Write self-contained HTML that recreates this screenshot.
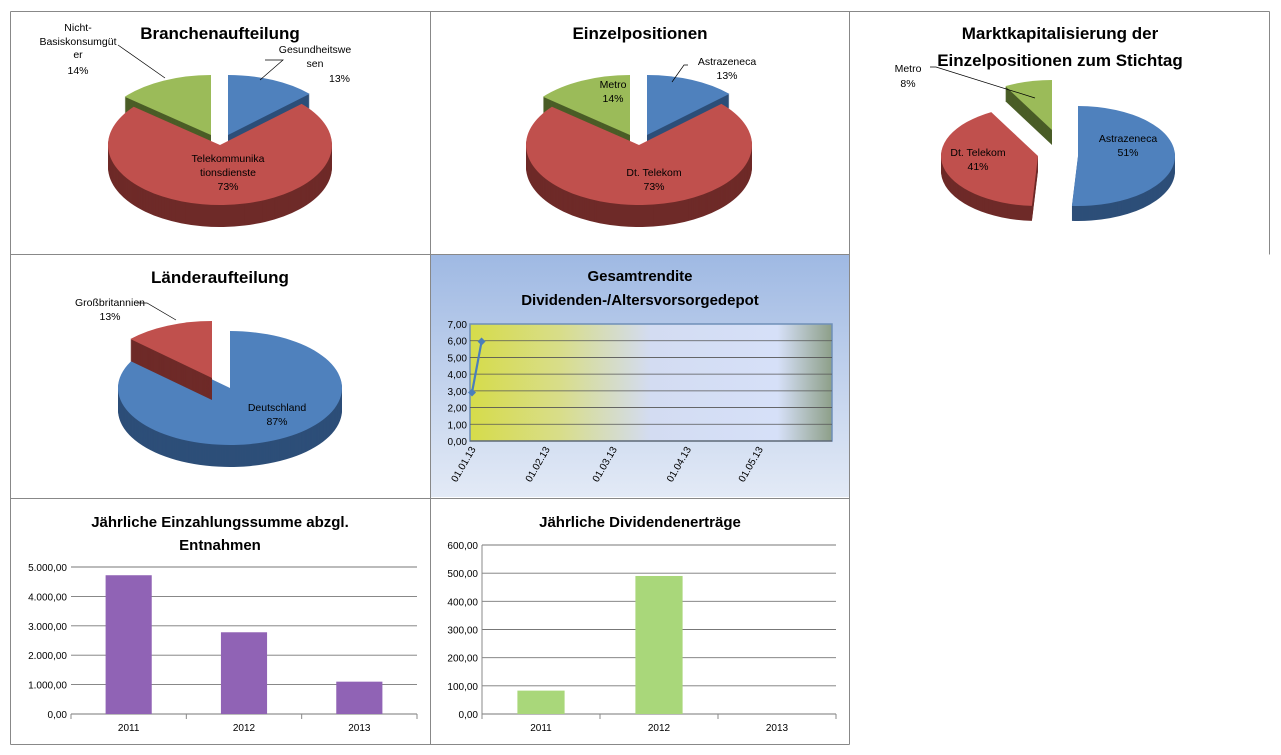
<!DOCTYPE html>
<html><head><meta charset="utf-8"><style>
body{margin:0;background:#fff;}
svg{display:block;font-family:"Liberation Sans",sans-serif;}
.t{font-weight:bold;font-size:17px;fill:#000;text-anchor:middle}
.l{font-size:10.5px;fill:#000;text-anchor:middle}
.ax{font-size:10px;fill:#000}
</style></head><body>
<svg id="s" width="1281" height="755" viewBox="0 0 1281 755" xmlns="http://www.w3.org/2000/svg">
<defs>
<linearGradient id="bg5" x1="0" y1="0" x2="0" y2="1"><stop offset="0" stop-color="#9fb9e3"/><stop offset="1" stop-color="#e3eaf6"/></linearGradient>
<linearGradient id="pa5" x1="0" y1="0" x2="1" y2="0"><stop offset="0" stop-color="#d6dc4a"/><stop offset="0.25" stop-color="#d8dd8a"/><stop offset="0.5" stop-color="#d3dcf2"/><stop offset="0.85" stop-color="#d6e0f8"/><stop offset="1" stop-color="#8d9f88"/></linearGradient>
</defs>
<rect x="431" y="255" width="418" height="242" fill="url(#bg5)"/>
<g stroke="#888" stroke-width="1" fill="none">
<path d="M10.5 11.5H1269.5M10.5 254.5H849.5M10.5 498.5H849.5M10.5 744.5H849.5M10.5 11.5V744.5M430.5 11.5V744.5M849.5 11.5V744.5M1269.5 11.5V254.5"/>
</g>
<text class="t" x="220" y="39">Branchenaufteilung</text>
<text class="t" x="640" y="39">Einzelpositionen</text>
<text class="t" x="1060" y="39">Marktkapitalisierung der</text>
<text class="t" x="1060" y="66">Einzelpositionen zum Stichtag</text>
<text class="t" x="220" y="283">Länderaufteilung</text>
<text class="t" x="640" y="281" style="font-size:15px">Gesamtrendite</text>
<text class="t" x="640" y="305" style="font-size:15px">Dividenden-/Altersvorsorgedepot</text>
<text class="t" x="220" y="527" style="font-size:15px">Jährliche Einzahlungssumme abzgl.</text>
<text class="t" x="220" y="550" style="font-size:15px">Entnahmen</text>
<text class="t" x="640" y="527" style="font-size:15px">Jährliche Dividendenerträge</text>
<g id="pies"></g>
<g id="line"></g>
<g id="bars"></g>
<g stroke="#000" stroke-width="0.7" fill="none">
<path d="M118 45L165 78M265 60H283L260 80M688 65H684L672 82M930 67H936L1035 98M136 303H147L176 320"/>
</g>
<g>
<text class="l" x="78" y="31">Nicht-</text><text class="l" x="78" y="45">Basiskonsumgüt</text><text class="l" x="78" y="58">er</text><text class="l" x="78" y="74">14%</text>
<text class="l" x="315" y="53">Gesundheitswe</text><text class="l" x="315" y="67">sen</text><text class="l" x="350" y="82" style="text-anchor:end">13%</text>
<text class="l" x="228" y="162">Telekommunika</text><text class="l" x="228" y="176">tionsdienste</text><text class="l" x="228" y="190">73%</text>
<text class="l" x="613" y="88">Metro</text><text class="l" x="613" y="102">14%</text>
<text class="l" x="727" y="65">Astrazeneca</text><text class="l" x="727" y="79">13%</text>
<text class="l" x="654" y="176">Dt. Telekom</text><text class="l" x="654" y="190">73%</text>
<text class="l" x="908" y="72">Metro</text><text class="l" x="908" y="87">8%</text>
<text class="l" x="1128" y="142">Astrazeneca</text><text class="l" x="1128" y="156">51%</text>
<text class="l" x="978" y="156">Dt. Telekom</text><text class="l" x="978" y="170">41%</text>
<text class="l" x="110" y="306">Großbritannien</text><text class="l" x="110" y="320">13%</text>
<text class="l" x="277" y="411">Deutschland</text><text class="l" x="277" y="425">87%</text>
</g>
</svg>
<script>
// ---- Pie data ----
const pie1Labels=["Gesundheitswesen","Telekommunikationsdienste","Nicht-Basiskonsumgüter"];
const pie1Values=[13,73,14];
const pie2Labels=["Astrazeneca","Dt. Telekom","Metro"];
const pie2Values=[13,73,14];
const pie3Labels=["Astrazeneca","Dt. Telekom","Metro"];
const pie3Values=[51,41,8];
const pie4Labels=["Deutschland","Großbritannien"];
const pie4Values=[87,13];
// ---- Line data ----
const lineDays=[0,4];
const lineValues=[2.9,5.95];
const lineYTicks=["0,00","1,00","2,00","3,00","4,00","5,00","6,00","7,00"];
const lineXTickDays=[0,31,59,90,120];
const lineXTicks=["01.01.13","01.02.13","01.03.13","01.04.13","01.05.13"];
// ---- Bar data ----
const barCats=["2011","2012","2013"];
const bar1Values=[4720,2780,1100];
const bar1Ticks=["0,00","1.000,00","2.000,00","3.000,00","4.000,00","5.000,00"];
const bar2Values=[83,490,0];
const bar2Ticks=["0,00","100,00","200,00","300,00","400,00","500,00","600,00"];

const NS="http://www.w3.org/2000/svg";
function mk(tag,attrs,parent){const e=document.createElementNS(NS,tag);for(const k in attrs)e.setAttribute(k,attrs[k]);parent.appendChild(e);return e;}
const COL={blue:["#4f81bd","#2d4e78"],red:["#c0504d","#6e2a28"],green:["#9bbb59","#4a5d27"]};
function pie(g,vals,cols,cx,cy,rx,ry,depth,offs,name,sidesFirst){
  const tot=vals.reduce((a,b)=>a+b,0);let a=0;const sl=[];
  vals.forEach((v,i)=>{const a0=a/tot*2*Math.PI;a+=v;const a1=a/tot*2*Math.PI;sl.push({i,v,a0,a1});});
  sl.sort((p,q)=>q.v-p.v);
  const mkPath=(s,oy)=>{const dx=offs[s.i][0],dy=offs[s.i][1];const x0=cx+dx+rx*Math.sin(s.a0),y0=cy+dy+oy-ry*Math.cos(s.a0),x1=cx+dx+rx*Math.sin(s.a1),y1=cy+dy+oy-ry*Math.cos(s.a1);
      const large=(s.a1-s.a0)>Math.PI?1:0;return `M${cx+dx} ${cy+dy+oy}L${x0} ${y0}A${rx} ${ry} 0 ${large} 1 ${x1} ${y1}Z`;};
  const side=s=>{const c=COL[cols[s.i]];for(let d=depth;d>0;d--){mk('path',{d:mkPath(s,d),fill:c[1]},g);}};
  const top=s=>{const p=mk('path',{d:mkPath(s,0),fill:COL[cols[s.i]][0]},g);
    
    };
  if(sidesFirst){sl.forEach(side);sl.forEach(top);}
  else sl.forEach(s=>{side(s);top(s);});
}
const pg=document.getElementById('pies');
pie(pg,pie1Values,["blue","red","green"],220,145,112,60,22,[[8,-10],[0,0],[-9,-10]],'branchen',true);
pie(pg,pie2Values,["blue","red","green"],639,145,113,60,22,[[8,-10],[0,0],[-9,-10]],'einzel',true);
pie(pg,pie3Values,["blue","red","green"],1060,156,97,50,15,[[18,0],[-22,0],[-8,-26]],'marktkap',false);
pie(pg,pie4Values,["blue","red"],230,388,112,57,22,[[0,0],[-18,-10]],'laender',false);

// Line chart
const lg=document.getElementById('line');
const L={x0:470,x1:832,y0:441,y1:324};
const lx=d=>472+d*2.394;
const ly=v=>L.y0-(v/7)*(L.y0-L.y1);
mk('rect',{x:L.x0,y:L.y1,width:L.x1-L.x0,height:L.y0-L.y1,fill:'url(#pa5)',stroke:'#6f8fb8','stroke-width':1.5},lg);
lineYTicks.forEach((t,i)=>{
  if(i>0&&i<7)mk('line',{x1:L.x0,x2:L.x1,y1:ly(i),y2:ly(i),stroke:'#555','stroke-width':0.8},lg);
  const tx=mk('text',{x:L.x0-3,y:ly(i)+4,class:'ax','text-anchor':'end'},lg);tx.textContent=t;
  
  
});
mk('line',{x1:L.x0,x2:L.x1,y1:L.y0,y2:L.y0,stroke:'#555'},lg);
lineXTickDays.forEach((d,i)=>{
  const x=lx(d);const tx=mk('text',{x:x+4,y:449,class:'ax','text-anchor':'end',transform:`rotate(-60 ${x+4} 449)`},lg);tx.textContent=lineXTicks[i];
  
  
});
const pts=lineDays.map((d,i)=>[lx(d),ly(lineValues[i])]);
const pl=mk('polyline',{points:pts.map(p=>p.join(',')).join(' '),fill:'none',stroke:'#4a7ebb','stroke-width':2.2},lg);


pts.forEach(p=>{const m=mk('path',{d:`M${p[0]} ${p[1]-4}l4 4l-4 4l-4 -4z`,fill:'#4a7ebb'},lg);
  
  });

// Bar charts
const bg=document.getElementById('bars');
function bars(vals,ticks,step,x0,x1,yTop,yBot,color,leftAxis,name){
  const max=step*(ticks.length-1);const y=v=>yBot-(v/max)*(yBot-yTop);
  ticks.forEach((t,i)=>{
    mk('line',{x1:x0,x2:x1,y1:y(i*step),y2:y(i*step),stroke:'#777','stroke-width':0.9},bg);
    const tx=mk('text',{x:x0-4,y:y(i*step)+4,class:'ax','text-anchor':'end'},bg);tx.textContent=t;
    
    
  });
  if(leftAxis)mk('line',{x1:x0,x2:x0,y1:yTop,y2:yBot,stroke:'#888'},bg);
  const cw=(x1-x0)/barCats.length;
  for(let i=0;i<=barCats.length;i++)mk('line',{x1:x0+i*cw,x2:x0+i*cw,y1:yBot,y2:yBot+5,stroke:'#888'},bg);
  barCats.forEach((c,i)=>{
    const bw=cw*0.4;const bx=x0+i*cw+(cw-bw)/2;
    const r=mk('rect',{x:bx,y:y(vals[i]),width:bw,height:yBot-y(vals[i]),fill:color},bg);
    
    
    const tx=mk('text',{x:x0+i*cw+cw/2,y:yBot+17,class:'ax','text-anchor':'middle'},bg);tx.textContent=c;
    
    
  });
}
bars(bar1Values,bar1Ticks,1000,71,417,567,714,'#9063b5',false,'einzahlung');
bars(bar2Values,bar2Ticks,100,482,836,545,714,'#a9d77a',true,'dividenden');
</script>
</body></html>
